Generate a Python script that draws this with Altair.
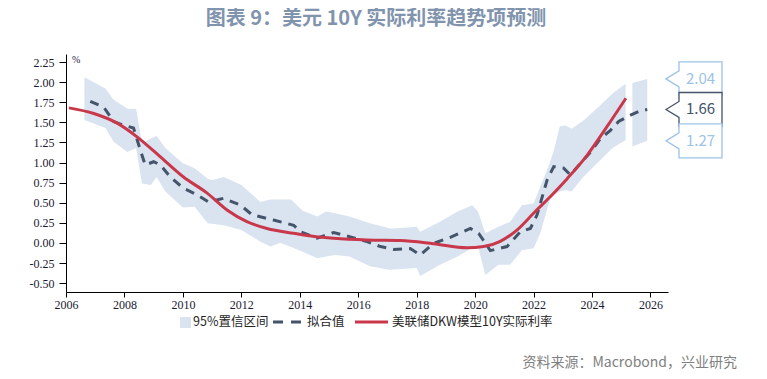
import altair as alt
import pandas as pd

# ---------------- data ----------------
band_x = [2006.63, 2007.35, 2007.63, 2008.1, 2008.4, 2008.6, 2008.9, 2009.1, 2009.4, 2010.0,
          2010.4, 2010.85, 2011.0, 2011.4, 2012.0, 2012.65, 2013.0, 2013.33, 2013.7, 2014.1,
          2014.6, 2014.9, 2015.2, 2015.7, 2016.4, 2017.1, 2017.2, 2018.0, 2018.12, 2018.8,
          2019.4, 2019.9, 2020.1, 2020.35, 2020.8, 2021.2, 2021.6, 2022.0, 2022.23, 2022.55,
          2022.7, 2022.9, 2023.1, 2023.3, 2023.7, 2024.25, 2024.7, 2025.15]
band_hi = [2.06, 1.92, 1.78, 1.67, 1.67, 1.24, 1.30, 1.33, 1.18, 0.99,
           0.93, 0.80, 0.78, 0.82, 0.72, 0.51, 0.54, 0.54, 0.54, 0.40,
           0.33, 0.39, 0.37, 0.33, 0.245, 0.18, 0.18, 0.20, 0.14, 0.265,
           0.39, 0.47, 0.39, 0.12, 0.20, 0.265, 0.47, 0.49, 0.70, 0.99,
           1.16, 1.45, 1.46, 1.42, 1.52, 1.70, 1.86, 1.98]
band_lo = [1.53, 1.43, 1.26, 1.13, 1.18, 0.74, 0.72, 0.82, 0.64, 0.44,
           0.45, 0.245, 0.24, 0.22, 0.16, 0.016, -0.045, 0.004, -0.05, -0.11,
           -0.19, -0.17, -0.15, -0.17, -0.29, -0.335, -0.33, -0.31, -0.41, -0.27,
           -0.17, -0.06, -0.045, -0.40, -0.27, -0.27, -0.09, -0.065, 0.12, 0.53,
           0.60, 0.64, 0.66, 0.64, 0.82, 1.02, 1.18, 1.28]

band2_x = [2025.38, 2025.89]
band2_hi = [1.99, 2.04]
band2_lo = [1.20, 1.27]

fit_x = [2006.83, 2007.29, 2007.63, 2007.92, 2008.31, 2008.54, 2008.71, 2009.0, 2009.23, 2009.57,
         2010.02, 2010.48, 2010.88, 2011.39, 2011.97, 2012.37, 2013.1, 2013.79, 2014.02, 2014.59,
         2015.16, 2015.73, 2016.3, 2016.76, 2017.21, 2017.78, 2018.12, 2018.58, 2019.15, 2019.84,
         2020.12, 2020.52, 2021.09, 2021.55, 2021.89, 2022.12, 2022.46, 2022.69, 2023.03, 2023.26,
         2023.6, 2023.95, 2024.29, 2024.63, 2024.91, 2025.32, 2025.63, 2025.89]
fit_y = [1.76, 1.69, 1.51, 1.47, 1.43, 1.16, 0.97, 1.01, 0.97, 0.82,
         0.68, 0.60, 0.51, 0.555, 0.47, 0.35, 0.285, 0.22, 0.14, 0.06,
         0.13, 0.075, 0.016, -0.045, -0.08, -0.07, -0.15, -0.005, 0.07, 0.18,
         0.12, -0.095, -0.045, 0.14, 0.18, 0.35, 0.78, 0.95, 0.93, 0.845,
         0.99, 1.13, 1.30, 1.40, 1.51, 1.59, 1.64, 1.66]

dkw_x = [2006.1, 2006.95, 2007.75, 2008.43, 2009.23, 2010.02, 2010.83, 2011.51, 2012.19, 2012.88,
         2013.79, 2014.5, 2015.16, 2016.3, 2017.44, 2018.58, 2019.72, 2020.29, 2020.86, 2021.43,
         2022.0, 2022.57, 2023.15, 2023.83, 2024.5, 2025.16]
dkw_y = [1.68, 1.61, 1.49, 1.32, 1.07, 0.82, 0.62, 0.41, 0.265, 0.18,
         0.12, 0.08, 0.058, 0.037, 0.03, -0.01, -0.06, -0.045, 0.02, 0.16,
         0.37, 0.575, 0.80, 1.09, 1.44, 1.80]

ann_labels = ["2.04", "1.66", "1.27"]
ann_values = [2.04, 1.66, 1.27]
ann_shift = [-3, 1.5, 4]
ann_colors = ["#9dc3e6", "#44546a", "#9dc3e6"]

x_ticks = list(range(2006, 2027, 2))
y_ticks = [-0.5, -0.25, 0.0, 0.25, 0.5, 0.75, 1.0, 1.25, 1.5, 1.75, 2.0, 2.25]

TITLE = "图表 9：美元 10Y 实际利率趋势项预测"
SOURCE = "资料来源：Macrobond，兴业研究"
LEG = ["95%置信区间", "拟合值", "美联储DKW模型10Y实际利率"]

BAND_C = "#dae3f0"
FIT_C = "#44546a"
DKW_C = "#c9384a"
CJK = "Noto Sans CJK SC"

# ---------------- tables ----------------
band_df = pd.DataFrame({"x": band_x + band2_x, "hi": band_hi + band2_hi,
                        "lo": band_lo + band2_lo,
                        "seg": ["a"] * len(band_x) + ["b"] * len(band2_x)})
fit_df = pd.DataFrame({"x": fit_x, "y": fit_y})
dkw_df = pd.DataFrame({"x": dkw_x, "y": dkw_y})
ann_df = pd.DataFrame({"label": ann_labels, "v": ann_values, "dy": ann_shift, "c": ann_colors})
one = pd.DataFrame({"k": [0]})

xs = alt.Scale(domain=[2006, 2026.6], nice=False, zero=False)
ys = alt.Scale(domain=[-0.61, 2.35], nice=False, zero=False)

xaxis = alt.Axis(values=x_ticks, format="d", title=None, grid=False, tickSize=5,
                 labelPadding=2, labelFlush=False, labelOverlap=False)
yaxis = alt.Axis(values=y_ticks, format=".2f", title=None, grid=False, tickSize=7,
                 labelPadding=5, labelOverlap=False, labelFlush=False,
                 labelExpr="replace(format(datum.value, '.2f'), '\u2212', '-')")


def X(f):
    return alt.X(f, scale=xs, axis=xaxis)


def Y(f):
    return alt.Y(f, scale=ys, axis=yaxis)


band = alt.Chart(band_df).mark_area(color=BAND_C, opacity=1, interpolate="linear").encode(
    x=X("x:Q"), y=Y("hi:Q"), y2="lo:Q", detail="seg:N")

fit = alt.Chart(fit_df).mark_line(color=FIT_C, strokeWidth=3, strokeDash=[9, 7]).encode(
    x=X("x:Q"), y=Y("y:Q"))

dkw = alt.Chart(dkw_df).mark_line(color=DKW_C, strokeWidth=3, interpolate="monotone").encode(
    x=X("x:Q"), y=Y("y:Q"))

callout_path = ("M -1 0 L -0.536 -0.286 L -0.536 -0.607 L 1 -0.607 L 1 0.607 "
                "L -0.536 0.607 L -0.536 0.286 Z")
boxes = alt.Chart(ann_df).mark_point(shape=callout_path, size=3136, filled=True,
                                     fill="white", strokeWidth=1.3, opacity=1).encode(
    x=alt.value(628),
    y=Y("v:Q"),
    yOffset=alt.YOffset("dy:Q", scale=None),
    stroke=alt.Stroke("c:N", scale=None),
)
ann_text = alt.Chart(ann_df).mark_text(font=CJK, fontSize=15, align="center",
                                       baseline="middle").encode(
    x=alt.value(634.5),
    y=Y("v:Q"),
    yOffset=alt.YOffset("dy:Q", scale=None),
    text="label:N",
    color=alt.Color("c:N", scale=None),
)

pct = alt.Chart(one).mark_text(text="%", font="Liberation Serif", fontSize=10,
                               align="left", baseline="middle", color="#1f2040").encode(
    x=alt.value(6), y=alt.value(6))

source = alt.Chart(one).mark_text(text=SOURCE, font=CJK, fontSize=14, align="right",
                                  baseline="middle", color="#808080").encode(
    x=alt.value(671), y=alt.value(309))

title = alt.Chart(one).mark_text(text=TITLE, font=CJK, fontSize=20, fontWeight="bold",
                                 align="center", baseline="middle", color="#8194ad").encode(
    x=alt.value(310), y=alt.value(-35))

# legend
leg_sq = alt.Chart(one).mark_rect(color=BAND_C).encode(
    x=alt.value(114), x2=alt.value(125), y=alt.value(263), y2=alt.value(274))
leg_fit = alt.Chart(one).mark_rule(color=FIT_C, strokeWidth=3, strokeDash=[10, 8]).encode(
    x=alt.value(207), x2=alt.value(236), y=alt.value(268))
leg_dkw = alt.Chart(one).mark_rule(color=DKW_C, strokeWidth=3).encode(
    x=alt.value(289), x2=alt.value(322), y=alt.value(268))
leg_df = pd.DataFrame({"t": LEG, "px": [127, 241, 326]})
leg_txt = alt.Chart(leg_df).mark_text(font=CJK, fontSize=12.5, align="left",
                                      baseline="middle", color="#262626").encode(
    x=alt.X("px:Q", scale=None), y=alt.value(268), text="t:N")

chart = alt.layer(band, fit, dkw, boxes, ann_text, pct, source, title,
                  leg_sq, leg_fit, leg_dkw, leg_txt).properties(
    width=602, height=238,
    autosize="none",
    padding={"left": 58, "top": 46, "right": 90, "bottom": 78},
).configure_view(stroke=None).configure_axis(
    domainColor="#000000", tickColor="#000000", domainWidth=1, tickWidth=1,
    labelFont="Liberation Serif", labelFontSize=12, labelColor="#1a1a33",
)

chart.save("out.html", embed_options={"renderer": "svg", "actions": False})
